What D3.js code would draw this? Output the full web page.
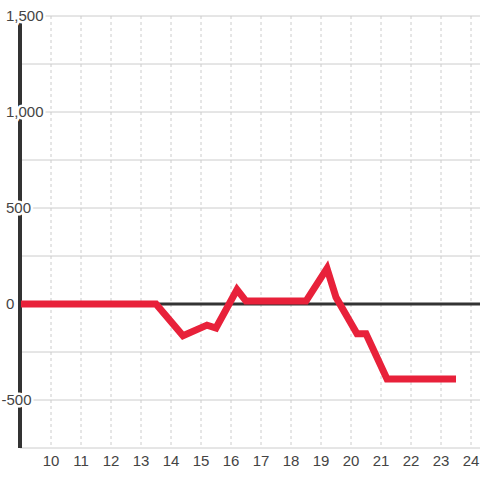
<!DOCTYPE html>
<html>
<head>
<meta charset="utf-8">
<script src="https://cdn.jsdelivr.net/npm/d3@7"></script>
<style>
  body { margin: 0; background: #fff; }
  svg { display: block; font-family: "Liberation Sans", Arial, sans-serif; }
</style>
</head>
<body>
<svg width="480" height="480"></svg>
<script>
// hour of day and value at that hour
const hours  = [9, 13.5, 14.4, 15.2, 15.5, 16.2, 16.5, 18.5, 19.2, 19.5, 20.2, 20.5, 21.2, 23.5];
const values = [0, 0, -165, -110, -125, 75, 15, 15, 185, 35, -155, -155, -390, -390];

const xTicks = [10, 11, 12, 13, 14, 15, 16, 17, 18, 19, 20, 21, 22, 23, 24];
const yTicks = [-500, 0, 500, 1000, 1500];
const yGrid  = [-750, -500, -250, 250, 500, 750, 1000, 1250, 1500];

const svg = d3.select("svg");

const x = d3.scaleLinear().domain([9, 24.3]).range([21, 480]);
const y = d3.scaleLinear().domain([-750, 1500]).range([448, 16]);

// vertical dashed grid
svg.append("g")
    .selectAll("line")
    .data(xTicks)
    .enter()
    .append("line")
    .attr("x1", d => x(d))
    .attr("x2", d => x(d))
    .attr("y1", y(1500))
    .attr("y2", y(-750))
    .attr("stroke", "#ccc")
    .attr("stroke-dasharray", "3,3");

// horizontal grid
svg.append("g")
    .selectAll("line")
    .data(yGrid)
    .enter()
    .append("line")
    .attr("x1", 20)
    .attr("x2", 480)
    .attr("y1", d => y(d))
    .attr("y2", d => y(d))
    .attr("stroke", "#ccc");

// zero line
svg.append("line")
    .attr("x1", 20).attr("x2", 480)
    .attr("y1", y(0)).attr("y2", y(0))
    .attr("stroke", "#333")
    .attr("stroke-width", 3);

// y axis line
svg.append("line")
    .attr("x1", 20).attr("x2", 20)
    .attr("y1", y(1500)).attr("y2", y(-750))
    .attr("stroke", "#333")
    .attr("stroke-width", 4);

// series
const line = d3.line()
    .x((d, i) => x(hours[i]))
    .y(d => y(d));

svg.append("path")
    .datum(values)
    .attr("d", line)
    .attr("fill", "none")
    .attr("stroke", "#e8213a")
    .attr("stroke-width", 7);

// y labels with white halo
svg.append("g")
    .selectAll("text")
    .data(yTicks)
    .enter()
    .append("text")
    .attr("x", d => d < 0 ? 1.5 : 6)
    .attr("y", d => y(d))
    .attr("dy", "0.35em")
    .attr("font-size", 15)
    .attr("fill", "#444")
    .attr("stroke", "#fff")
    .attr("stroke-width", 5)
    .attr("paint-order", "stroke")
    .text(d => d3.format(",")(d).replace("−", "-"));

// x labels
svg.append("g")
    .selectAll("text")
    .data(xTicks)
    .enter()
    .append("text")
    .attr("x", d => x(d))
    .attr("y", 466)
    .attr("text-anchor", "middle")
    .attr("font-size", 15)
    .attr("fill", "#444")
    .text(d => d);
</script>
</body>
</html>
